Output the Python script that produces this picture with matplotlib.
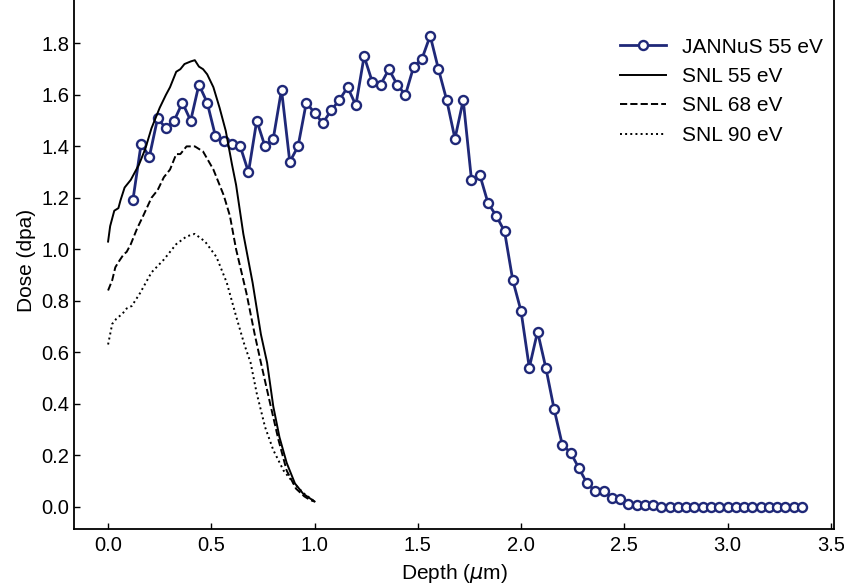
import matplotlib
matplotlib.use("Agg")
import matplotlib.pyplot as plt
import numpy as np

plt.rcParams['font.family'] = ['Liberation Sans', 'DejaVu Sans']

# JANNuS 55 eV: depth bins every 0.04 um starting at 0.12 um
jannus_depth = np.round(0.12 + 0.04 * np.arange(82), 2)
jannus_dose = [1.19, 1.41, 1.36, 1.51, 1.47, 1.50, 1.57, 1.50, 1.64, 1.57,
               1.44, 1.42, 1.41, 1.40, 1.30, 1.50, 1.40, 1.43, 1.62, 1.34,
               1.40, 1.57, 1.53, 1.49, 1.54, 1.58, 1.63, 1.56, 1.75, 1.65,
               1.64, 1.70, 1.64, 1.60, 1.71, 1.74, 1.83, 1.70, 1.58, 1.43,
               1.58, 1.27, 1.29, 1.18, 1.13, 1.07, 0.88, 0.76, 0.54, 0.68,
               0.54, 0.38, 0.24, 0.21, 0.15, 0.09, 0.06, 0.06, 0.035, 0.03,
               0.01, 0.005, 0.007, 0.007,
               0, 0, 0, 0, 0, 0, 0, 0, 0, 0, 0, 0, 0, 0, 0, 0, 0, 0]

# SNL 55 eV
snl55_depth = [0.0, 0.01, 0.02, 0.03, 0.05, 0.06, 0.08, 0.10, 0.11, 0.13,
               0.15, 0.18, 0.21, 0.25, 0.28, 0.30, 0.33, 0.35, 0.37, 0.40,
               0.42, 0.44, 0.46, 0.48, 0.51, 0.54, 0.57, 0.60, 0.62, 0.655,
               0.70, 0.74, 0.77, 0.80, 0.83, 0.865, 0.905, 0.945, 1.0]
snl55_dose = [1.03, 1.09, 1.12, 1.15, 1.16, 1.19, 1.24, 1.26, 1.27, 1.30,
              1.33, 1.39, 1.47, 1.55, 1.60, 1.63, 1.69, 1.70, 1.72, 1.73,
              1.735, 1.71, 1.70, 1.68, 1.63, 1.55, 1.46, 1.33, 1.25, 1.06,
              0.87, 0.67, 0.56, 0.39, 0.27, 0.17, 0.09, 0.05, 0.02]

# SNL 68 eV
snl68_depth = [0.0, 0.02, 0.035, 0.05, 0.075, 0.09, 0.11, 0.14, 0.17, 0.21,
               0.24, 0.27, 0.30, 0.33, 0.35, 0.38, 0.40, 0.42, 0.44, 0.46,
               0.51, 0.56, 0.59, 0.62, 0.67, 0.71, 0.74, 0.785, 0.825, 0.865,
               0.91, 0.95, 0.98, 1.0]
snl68_dose = [0.84, 0.88, 0.93, 0.95, 0.98, 0.99, 1.02, 1.08, 1.13, 1.20,
              1.23, 1.28, 1.31, 1.37, 1.37, 1.40, 1.40, 1.40, 1.39, 1.38,
              1.31, 1.21, 1.13, 1.00, 0.83, 0.67, 0.56, 0.40, 0.26, 0.14,
              0.07, 0.04, 0.025, 0.02]

# SNL 90 eV
snl90_depth = [0.0, 0.02, 0.04, 0.07, 0.09, 0.115, 0.155, 0.21, 0.27, 0.33,
               0.38, 0.42, 0.47, 0.525, 0.575, 0.62, 0.66, 0.69, 0.72, 0.76,
               0.80, 0.85, 0.90, 0.95, 1.0]
snl90_dose = [0.63, 0.71, 0.73, 0.75, 0.77, 0.78, 0.83, 0.91, 0.96, 1.02,
              1.05, 1.06, 1.03, 0.97, 0.87, 0.74, 0.63, 0.56, 0.44, 0.31,
              0.22, 0.14, 0.09, 0.05, 0.02]

fig = plt.figure(figsize=(8.44, 5.85), dpi=100)
ax = fig.add_axes([0.0877, 0.0957, 0.9005, 0.918])

navy = '#1f2878'
ax.plot(jannus_depth, jannus_dose, '-o', color=navy, lw=2.0, ms=6.5,
        mfc='white', mec=navy, mew=1.7, label='JANNuS 55 eV')
ax.plot(snl55_depth, snl55_dose, '-', color='black', lw=1.4, label='SNL 55 eV')
ax.plot(snl68_depth, snl68_dose, '--', color='black', lw=1.4, label='SNL 68 eV')
ax.plot(snl90_depth, snl90_dose, ':', color='black', lw=1.4, label='SNL 90 eV')

ax.set_xlim(-0.165, 3.516)
ax.set_ylim(-0.087, 2.0)
ax.set_xticks(np.arange(0, 3.51, 0.5))
ax.set_yticks(np.arange(0, 1.81, 0.2))
ax.tick_params(direction='in', length=4, width=1, labelsize=14.5)
ax.tick_params(axis='x', pad=5)
for s in ax.spines.values():
    s.set_linewidth(1.3)

ax.set_xlabel(r'Depth ($\mu$m)', fontsize=15, labelpad=5)
ax.set_ylabel('Dose (dpa)', fontsize=15, labelpad=4)

ax.legend(loc='upper right', bbox_to_anchor=(1.01, 0.95), frameon=False,
          fontsize=15, handlelength=2.25, handletextpad=0.75, labelspacing=0.5)

fig.savefig('out.png')
